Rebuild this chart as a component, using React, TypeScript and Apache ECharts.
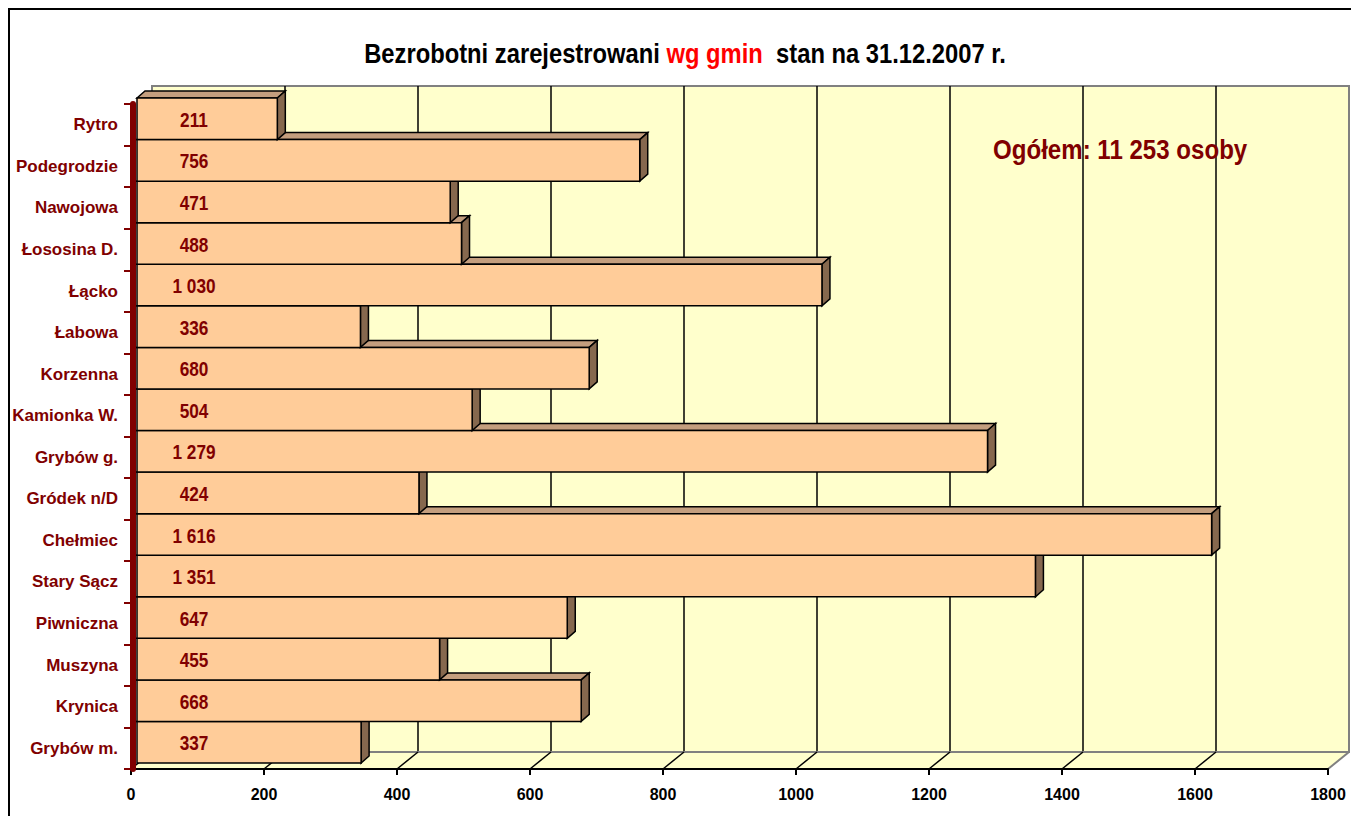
import React, { useEffect, useRef } from 'react';
import * as echarts from 'echarts';

// Categories listed bottom-to-top (first item drawn at the bottom)
const categories = [
  'Grybów m.', 'Krynica', 'Muszyna', 'Piwniczna', 'Stary Sącz', 'Chełmiec',
  'Gródek n/D', 'Grybów g.', 'Kamionka W.', 'Korzenna', 'Łabowa', 'Łącko',
  'Łososina D.', 'Nawojowa', 'Podegrodzie', 'Rytro',
];
const values = [337, 668, 455, 647, 1351, 1616, 424, 1279, 504, 680, 336, 1030, 488, 471, 756, 211];
const xTicks = [0, 200, 400, 600, 800, 1000, 1200, 1400, 1600, 1800];
const titleA = 'Bezrobotni zarejestrowani ';
const titleB = 'wg gmin';
const titleC = '  stan na 31.12.2007 r.';
const totalNote = 'Ogółem: 11 253 osoby';

const FONT = "'Liberation Sans', Arial, sans-serif";
const DARK_RED = '#800000';
const WALL = '#FFFFCC';

// 3D depth offsets (style)
const FLOOR_DX = 21;
const FLOOR_DY = -17;
const BAR_SHIFT_X = 6;
const BAR_SHIFT_Y = -6;
const BAR_DX = 8;
const BAR_DY = -7;

function fmt(v: number): string {
  if (v >= 1000) {
    return Math.floor(v / 1000) + ' ' + String(v % 1000).padStart(3, '0');
  }
  return String(v);
}

export default function App() {
  const ref = useRef<HTMLDivElement>(null);

  useEffect(() => {
    if (!ref.current) return;
    const chart = echarts.init(ref.current, undefined, { renderer: 'svg' });

    const floorRender = (params: any, api: any) => {
      const cs = params.coordSys;
      const v = api.value(0);
      const p = api.coord([v, 0]);
      const yb = cs.y + cs.height;
      const isLast = v === xTicks[xTicks.length - 1];
      const children: any[] = [];
      if (params.dataIndex === 0) {
        children.push({
          type: 'polygon',
          shape: {
            points: [
              [cs.x, yb], [cs.x + cs.width, yb],
              [cs.x + cs.width + FLOOR_DX, yb + FLOOR_DY], [cs.x + FLOOR_DX, yb + FLOOR_DY],
            ],
          },
          style: { fill: WALL, stroke: 'none' },
        });
        children.push({
          type: 'line',
          shape: { x1: cs.x + FLOOR_DX, y1: yb + FLOOR_DY, x2: cs.x + cs.width + FLOOR_DX, y2: yb + FLOOR_DY },
          style: { stroke: '#808080', lineWidth: 2 },
        });
      }
      children.push({
        type: 'line',
        shape: { x1: p[0], y1: yb, x2: p[0] + FLOOR_DX, y2: yb + FLOOR_DY },
        style: { stroke: isLast ? '#808080' : '#000', lineWidth: isLast ? 2 : 1.5 },
      });
      return { type: 'group', children };
    };

    const barRender = (params: any, api: any) => {
      const v = api.value(0);
      const idx = api.value(1);
      const p0 = api.coord([0, idx]);
      const p1 = api.coord([v, idx]);
      const h = api.size([0, 1])[1];
      const x0 = p0[0] + BAR_SHIFT_X;
      const x1 = p1[0] + BAR_SHIFT_X;
      const yTop = p0[1] - h / 2 + BAR_SHIFT_Y;
      const yBot = p0[1] + h / 2 + BAR_SHIFT_Y;
      const stroke = { stroke: '#000', lineWidth: 1.5, lineJoin: 'miter' };
      return {
        type: 'group',
        children: [
          {
            type: 'polygon',
            shape: { points: [[x0, yTop], [x0 + BAR_DX, yTop + BAR_DY], [x1 + BAR_DX, yTop + BAR_DY], [x1, yTop]] },
            style: { fill: '#C49E7E', ...stroke },
          },
          {
            type: 'polygon',
            shape: { points: [[x1, yTop], [x1 + BAR_DX, yTop + BAR_DY], [x1 + BAR_DX, yBot + BAR_DY], [x1, yBot]] },
            style: { fill: '#86684E', ...stroke },
          },
          {
            type: 'rect',
            shape: { x: x0, y: yTop, width: x1 - x0, height: yBot - yTop },
            style: { fill: '#FFCC99', ...stroke },
          },
          {
            type: 'text',
            x: x0 + 57,
            y: (yTop + yBot) / 2 + 1,
            scaleX: 0.82,
            style: {
              text: fmt(v),
              x: 0,
              y: 0,
              align: 'center',
              verticalAlign: 'middle',
              fill: DARK_RED,
              fontFamily: FONT,
              fontWeight: 'bold',
              fontSize: 21,
            },
          },
        ],
      };
    };

    chart.setOption({
      animation: false,
      backgroundColor: '#fff',
      graphic: [
        {
          type: 'rect',
          z: 0,
          shape: { x: 9, y: 9, width: 1400, height: 900 },
          style: { fill: 'none', stroke: '#000', lineWidth: 2 },
        },
        {
          type: 'text',
          z: 20,
          x: 685,
          y: 53,
          scaleX: 0.88,
          style: {
            text: `{a|${titleA}}{b|${titleB}}{a|${titleC}}`,
            x: 0,
            y: 0,
            align: 'center',
            verticalAlign: 'middle',
            rich: {
              a: { fontFamily: FONT, fontWeight: 'bold', fontSize: 27, fill: '#000' },
              b: { fontFamily: FONT, fontWeight: 'bold', fontSize: 27, fill: '#FF0000' },
            },
          },
        },
        {
          type: 'text',
          z: 20,
          x: 993,
          y: 149,
          scaleX: 0.86,
          style: {
            text: totalNote,
            x: 0,
            y: 0,
            fill: DARK_RED,
            fontFamily: FONT,
            fontWeight: 'bold',
            fontSize: 28,
            verticalAlign: 'middle',
          },
        },
      ],
      grid: [
        { left: 131, top: 104, width: 1197, height: 665, show: false, containLabel: false, outerBoundsMode: 'none' },
        {
          left: 152, top: 86, width: 1197, height: 666, show: true, containLabel: false, outerBoundsMode: 'none',
          backgroundColor: WALL, borderColor: '#808080', borderWidth: 2,
        },
      ],
      xAxis: [
        {
          gridIndex: 0, type: 'value', min: 0, max: 1800, interval: 200, z: 4,
          axisLine: { show: true, lineStyle: { color: '#000', width: 2 } },
          axisTick: { show: true, length: 6, lineStyle: { color: '#000', width: 2 } },
          axisLabel: {
            color: '#000', fontFamily: FONT, fontWeight: 'bold', fontSize: 16, margin: 17,
            formatter: (v: number) => String(v),
          },
          splitLine: { show: false },
        },
        {
          gridIndex: 1, type: 'value', min: 0, max: 1800, interval: 200,
          axisLine: { show: false }, axisTick: { show: false }, axisLabel: { show: false },
          splitLine: { show: true, showMinLine: false, showMaxLine: false, lineStyle: { color: '#000', width: 1.5 } },
        },
      ],
      yAxis: [
        {
          gridIndex: 0, type: 'category', data: categories, offset: -2, z: 10,
          axisLine: { show: true, lineStyle: { color: DARK_RED, width: 6 } },
          axisTick: { show: true, length: 9, lineStyle: { color: DARK_RED, width: 2 } },
          axisLabel: { color: DARK_RED, fontFamily: FONT, fontWeight: 'bold', fontSize: 17, margin: 15 },
          splitLine: { show: false },
        },
        {
          gridIndex: 1, type: 'category', data: categories, show: false,
        },
      ],
      series: [
        {
          type: 'custom',
          xAxisIndex: 0, yAxisIndex: 0, z: 1,
          renderItem: floorRender,
          data: xTicks.map((t) => [t, 0]),
          silent: true,
        },
        {
          type: 'custom',
          xAxisIndex: 0, yAxisIndex: 0, z: 5,
          renderItem: barRender,
          encode: { x: 0, y: 1 },
          data: values.map((v, i) => [v, i]),
        },
      ],
    });

    return () => chart.dispose();
  }, []);

  return (
    <div
      ref={ref}
      style={{ position: 'fixed', left: 0, top: 0, width: 1351, height: 816, background: '#fff' }}
    />
  );
}
